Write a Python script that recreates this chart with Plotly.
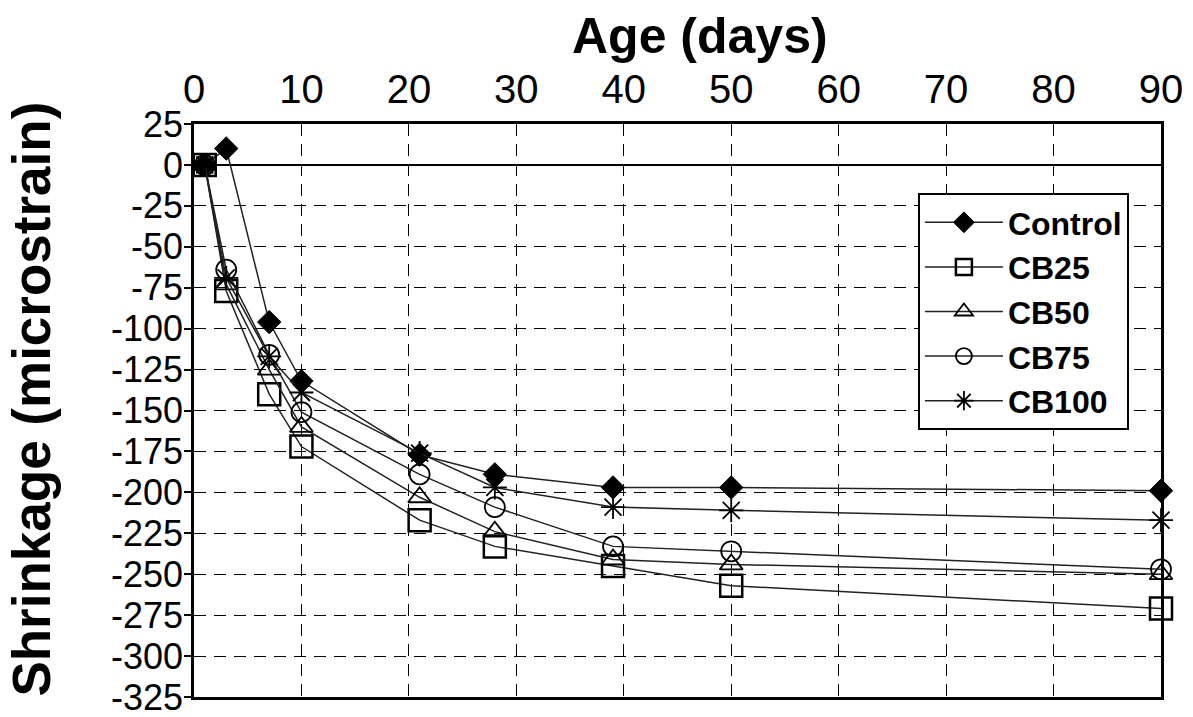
import plotly.graph_objects as go

# Age (days) and shrinkage (microstrain)
days = [1, 3, 7, 10, 21, 28, 39, 50, 90]

control = [0, 10, -96, -132, -177, -189, -197, -197, -199]
cb25 = [0, -77, -140, -172, -217, -233, -245, -257, -271]
cb50 = [0, -73, -125, -160, -203, -224, -241, -244, -250]
cb75 = [0, -64, -116, -151, -189, -209, -233, -236, -247]
cb100 = [0, -69, -117, -139, -176, -197, -209, -211, -217]

x_ticks = list(range(0, 91, 10))
y_ticks = list(range(25, -326, -25))

FONT = "Liberation Sans, Arial, sans-serif"

series = [
    ("Control", control, dict(symbol="diamond", size=18, color="black",
                               line=dict(color="black", width=1))),
    ("CB25", cb25, dict(symbol="square-open", size=22, color="black",
                         line=dict(color="black", width=2.5))),
    ("CB50", cb50, dict(symbol="triangle-up-open", size=20, color="black",
                         line=dict(color="black", width=1.8))),
    ("CB75", cb75, dict(symbol="circle-open", size=20, color="black",
                         line=dict(color="black", width=1.8))),
    ("CB100", cb100, dict(symbol="asterisk-open", size=20, color="black",
                           line=dict(color="black", width=1.8))),
]

fig = go.Figure()
for name, vals, marker in series:
    fig.add_trace(go.Scatter(
        x=days, y=vals,
        mode="lines+markers",
        name=name,
        legendgroup=name,
        line=dict(color="#222222", width=1.5),
        marker=marker,
        cliponaxis=False,
    ))

grid = dict(showgrid=True, gridcolor="black", gridwidth=1.2, griddash="12px,8px")

# the page body adds an 8px offset, so margins are trimmed by that amount
fig.update_layout(
    width=1193, height=717,
    margin=dict(l=186, r=40, t=116, b=28),
    paper_bgcolor="white", plot_bgcolor="white",
    font=dict(family=FONT, color="black"),
    xaxis=dict(
        side="top", range=[0, 90],
        tickvals=x_ticks, ticktext=[str(v) for v in x_ticks],
        tickfont=dict(size=40, family=FONT),
        ticks="", ticklabelstandoff=2,
        showline=True, mirror=True, linecolor="black", linewidth=2.5,
        zeroline=False, automargin=False,
        **grid,
    ),
    yaxis=dict(
        range=[-325, 25],
        tickvals=y_ticks, ticktext=[str(v) for v in y_ticks],
        tickfont=dict(size=36, family=FONT),
        ticks="outside", ticklen=7, tickwidth=1.5, tickcolor="black",
        ticklabelstandoff=-6,
        showline=True, mirror=True, linecolor="black", linewidth=2.5,
        zeroline=True, zerolinecolor="black", zerolinewidth=1.5,
        automargin=False,
        **grid,
    ),
    legend=dict(
        x=0.7486, y=0.8796, xanchor="left", yanchor="top",
        bgcolor="white", bordercolor="black", borderwidth=2,
        font=dict(size=32, family=FONT, weight="bold", color="black"),
        itemwidth=78, tracegroupgap=0,
    ),
    annotations=[
        dict(text="<b>Age (days)</b>", xref="paper", yref="paper",
             x=0.523, y=1.0, yshift=88, xanchor="center", yanchor="middle",
             showarrow=False, font=dict(size=50, family=FONT)),
        dict(text="<b>Shrinkage (microstrain)</b>", xref="paper", yref="paper",
             x=-0.169, y=0.52, xanchor="center", yanchor="middle", textangle=-90,
             showarrow=False, font=dict(size=53, family=FONT)),
    ],
)

fig.write_html("out.html")
